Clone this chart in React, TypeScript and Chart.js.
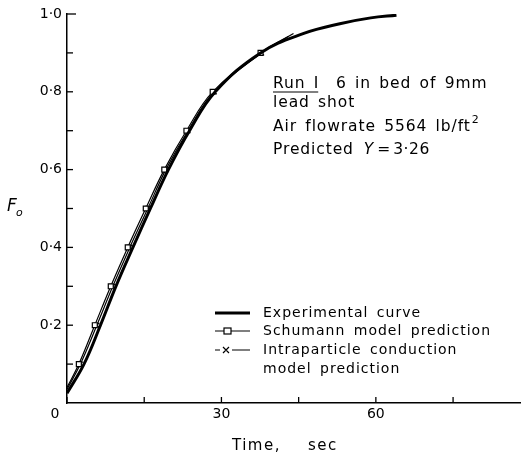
import React, { useEffect, useRef } from "react";
import { Chart, registerables } from "chart.js";

Chart.register(...registerables);

// Data
const expTime = [0, 3.3, 6.5, 9.5, 12.8, 16.2, 19.7, 23.8, 28.8, 37.6, 46, 53, 59, 64];
const expF = [0.025, 0.1, 0.2, 0.3, 0.4, 0.5, 0.6, 0.7, 0.8, 0.9, 0.95, 0.975, 0.99, 0.997];

const schTime = [0, 2.3, 5.4, 8.5, 11.8, 15.3, 18.9, 23.2, 28.3, 37.6, 44];
const schF = [0.04, 0.1, 0.2, 0.3, 0.4, 0.5, 0.6, 0.7, 0.8, 0.9, 0.95];

const intTime = [0, 2.6, 5.8, 8.9, 12.2, 15.7, 19.2, 23.5, 28.6, 37.8, 43];
const intF = [0.035, 0.1, 0.2, 0.3, 0.4, 0.5, 0.6, 0.7, 0.8, 0.9, 0.942];

const xLabelTicks = [30, 60];
const xMarkTicks = [0, 15, 30, 45, 60, 75];
const yLabelTicks = [0.2, 0.4, 0.6, 0.8, 1.0];
const yMarkTicks = [0.1, 0.2, 0.3, 0.4, 0.5, 0.6, 0.7, 0.8, 0.9, 1.0];

const legendItems = ["Experimental curve", "Schumann model prediction", "Intraparticle conduction", "model prediction"];
const noteLines = ["6 in bed of 9mm", "lead shot", "Air flowrate 5564 lb/ft", "Predicted"];

const FONT = "'DejaVu Sans', sans-serif";

const toXY = (xs: number[], ys: number[]) => xs.map((x, i) => ({ x, y: ys[i] }));

const setSpacing = (ctx: any, ls: number, ws: number) => {
  ctx.letterSpacing = `${ls}px`;
  ctx.wordSpacing = `${ws}px`;
};

const decorPlugin = {
  id: "decor",
  afterDraw(chart: any) {
    const ctx = chart.ctx as any;
    const xs = chart.scales.x;
    const ys = chart.scales.y;
    const ca = chart.chartArea;
    ctx.save();
    ctx.strokeStyle = "#000";
    ctx.fillStyle = "#000";
    ctx.lineWidth = 1.3;
    // inward tick marks
    xMarkTicks.forEach((v) => {
      const px = xs.getPixelForValue(v);
      ctx.beginPath();
      ctx.moveTo(px, ca.bottom);
      ctx.lineTo(px, ca.bottom - 6);
      ctx.stroke();
    });
    yMarkTicks.forEach((v) => {
      const py = ys.getPixelForValue(v);
      ctx.beginPath();
      ctx.moveTo(ca.left, py);
      ctx.lineTo(ca.left + (v === 1.0 ? 9 : 6), py);
      ctx.stroke();
    });
    // origin label
    ctx.font = `14px ${FONT}`;
    ctx.textAlign = "center";
    ctx.textBaseline = "middle";
    ctx.fillText("0", 55, ca.bottom + 11);
    // x title
    ctx.font = `15px ${FONT}`;
    ctx.textAlign = "left";
    setSpacing(ctx, 1.5, 0);
    ctx.fillText("Time,", 232, 446);
    ctx.fillText("sec", 308, 446);
    setSpacing(ctx, 0, 0);
    // y title F_o
    ctx.font = `italic 17px ${FONT}`;
    ctx.fillText("F", 7, 207);
    ctx.font = `italic 11px ${FONT}`;
    ctx.fillText("o", 16, 213);

    // annotation
    ctx.font = `15.5px ${FONT}`;
    setSpacing(ctx, 0.9, 2.5);
    ctx.textAlign = "left";
    const ax = 273;
    ctx.fillText("Run I", ax, 84);
    const runW = ctx.measureText("Run I").width;
    ctx.lineWidth = 1.2;
    ctx.beginPath();
    ctx.moveTo(ax, 92);
    ctx.lineTo(ax + runW - 1, 92);
    ctx.stroke();
    ctx.fillText(noteLines[0], 336, 84);
    ctx.fillText(noteLines[1], ax, 103);
    ctx.fillText(noteLines[2], ax, 127);
    const aw = ctx.measureText(noteLines[2]).width;
    ctx.font = `11px ${FONT}`;
    ctx.fillText("2", ax + aw + 1, 120);
    ctx.font = `15.5px ${FONT}`;
    ctx.fillText(noteLines[3], ax, 150);
    const pw = ctx.measureText(noteLines[3]).width;
    ctx.font = `italic 15.5px ${FONT}`;
    const yx = ax + pw + 10;
    ctx.fillText("Y", yx, 150);
    const yw = ctx.measureText("Y").width;
    ctx.font = `15.5px ${FONT}`;
    setSpacing(ctx, 0.5, 0);
    ctx.fillText("=", yx + yw + 3, 150);
    ctx.fillText("3·26", yx + yw + 19, 150);
    setSpacing(ctx, 0, 0);

    // legend
    const lx0 = 215;
    const lx1 = 250;
    const tx = 263;
    const rows = [313, 331, 350, 369];
    ctx.font = `14px ${FONT}`;
    setSpacing(ctx, 1, 3);
    legendItems.forEach((t, i) => ctx.fillText(t, tx, rows[i]));
    setSpacing(ctx, 0, 0);
    // experimental sample
    ctx.lineWidth = 3;
    ctx.beginPath();
    ctx.moveTo(lx0, rows[0]);
    ctx.lineTo(lx1, rows[0]);
    ctx.stroke();
    // schumann sample
    ctx.lineWidth = 1.2;
    ctx.beginPath();
    ctx.moveTo(lx0, rows[1]);
    ctx.lineTo(lx1, rows[1]);
    ctx.stroke();
    ctx.fillStyle = "#fff";
    ctx.fillRect(224, rows[1] - 3, 7, 6);
    ctx.strokeRect(224, rows[1] - 3, 7, 6);
    ctx.fillStyle = "#000";
    // intraparticle sample
    ctx.beginPath();
    ctx.moveTo(lx0, rows[2]);
    ctx.lineTo(lx0 + 5, rows[2]);
    ctx.moveTo(232, rows[2]);
    ctx.lineTo(lx1, rows[2]);
    ctx.moveTo(223, rows[2] - 3);
    ctx.lineTo(229, rows[2] + 3);
    ctx.moveTo(229, rows[2] - 3);
    ctx.lineTo(223, rows[2] + 3);
    ctx.stroke();
    ctx.restore();
  },
};

export default function App() {
  const ref = useRef<HTMLCanvasElement | null>(null);
  useEffect(() => {
    if (!ref.current) return;
    const markerRadius = (n: number) => (c: any) => (c.dataIndex === 0 || c.dataIndex === n - 1 ? 0 : 3.5);
    const chart = new Chart(ref.current, {
      type: "line",
      data: {
        datasets: [
          {
            label: "Experimental curve",
            data: toXY(expTime, expF),
            borderColor: "#000",
            borderWidth: 3,
            pointRadius: 0,
            tension: 0.4,
          },
          {
            label: "Schumann model prediction",
            data: toXY(schTime, schF),
            borderColor: "#000",
            borderWidth: 1.2,
            pointStyle: "rect",
            pointRadius: markerRadius(schTime.length),
            pointBorderColor: "#000",
            pointBackgroundColor: "#fff",
            pointBorderWidth: 1.2,
            tension: 0.4,
          },
          {
            label: "Intraparticle conduction model prediction",
            data: toXY(intTime, intF),
            borderColor: "#000",
            borderWidth: 1.2,
            pointStyle: "crossRot",
            pointRadius: markerRadius(intTime.length),
            pointBorderColor: "#000",
            pointBorderWidth: 1.2,
            tension: 0.4,
          },
        ],
      },
      options: {
        animation: false,
        responsive: true,
        maintainAspectRatio: false,
        layout: { padding: { top: 14, right: 4, left: 0, bottom: 0 } },
        plugins: { legend: { display: false }, tooltip: { enabled: false } },
        scales: {
          x: {
            type: "linear",
            min: 0,
            max: 88,
            afterBuildTicks: (s: any) => {
              s.ticks = xLabelTicks.map((v) => ({ value: v }));
            },
            afterFit: (s: any) => {
              s.height = 54;
            },
            ticks: {
              color: "#000",
              font: { family: FONT, size: 14 },
              padding: 3,
              maxRotation: 0,
              autoSkip: false,
            },
            grid: { display: false, drawTicks: false },
            border: { display: true, color: "#000", width: 1.5 },
          },
          y: {
            type: "linear",
            min: 0,
            max: 1.0,
            afterBuildTicks: (s: any) => {
              s.ticks = yLabelTicks.map((v) => ({ value: v }));
            },
            afterFit: (s: any) => {
              s.width = 67;
            },
            ticks: {
              color: "#000",
              font: { family: FONT, size: 14 },
              padding: 5,
              autoSkip: false,
              callback: (v: any) => Number(v).toFixed(1).replace(".", "·"),
            },
            grid: { display: false, drawTicks: false },
            border: { display: true, color: "#000", width: 1.5 },
          },
        },
      },
      plugins: [decorPlugin],
    } as any);
    return () => chart.destroy();
  }, []);
  return (
    <div style={{ position: "fixed", left: 0, top: 0, width: 524, height: 457, background: "#fff" }}>
      <canvas ref={ref} />
    </div>
  );
}
